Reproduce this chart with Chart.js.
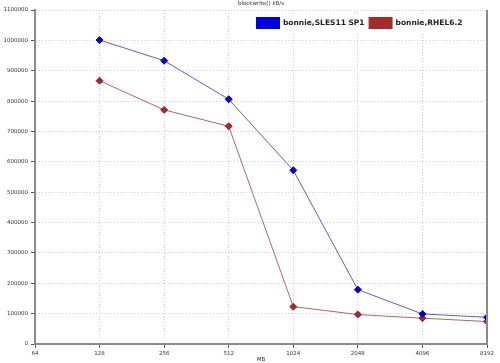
<!DOCTYPE html>
<html>
<head>
<meta charset="utf-8">
<script src="https://cdn.jsdelivr.net/npm/chart.js@4"></script>
<style>
    html, body { margin: 0; padding: 0; background: #fff; }
    #wrap { width: 500px; height: 363px; }
</style>
</head>
<body>
<div id="wrap"><canvas id="chart" width="500" height="363"></canvas></div>
<script>
// file sizes (MB) and blockwrite throughput (kB/s)
const xTicks = [64, 128, 256, 512, 1024, 2048, 4096, 8192];
const sizes = [128, 256, 512, 1024, 2048, 4096, 8192];
const slesValues = [1001000, 933000, 806000, 572000, 179000, 99000, 88000];
const rhelValues = [867000, 771000, 717000, 123000, 97000, 85000, 74000];
const seriesNames = ['bonnie,SLES11 SP1', 'bonnie,RHEL6.2'];
const chartTitle = 'blockwrite() kB/s';
const xTitle = 'MB';

function toPoints(values) {
    return sizes.map((s, i) => ({ x: s, y: values[i] }));
}

// title, x label, right border and legend box drawn on top
const extras = {
    id: 'extras',
    afterDraw(chart) {
        const ctx = chart.ctx;
        const area = chart.chartArea;
        ctx.save();

        ctx.strokeStyle = '#8a8a8a';
        ctx.lineWidth = 2;
        ctx.beginPath();
        ctx.moveTo(area.right, area.top);
        ctx.lineTo(area.right, area.bottom);
        ctx.stroke();

        ctx.fillStyle = '#333';
        ctx.font = '5.5px "DejaVu Sans"';
        ctx.textAlign = 'center';
        ctx.textBaseline = 'middle';
        ctx.fillText(chartTitle, (area.left + area.right) / 2, 4);
        ctx.fillText(xTitle, (area.left + area.right) / 2, 360);

        // legend
        let x = 256;
        const y = 17;
        ctx.fillStyle = '#fff';
        ctx.fillRect(253, 14, 215, 18);
        ctx.font = 'bold 7.5px "DejaVu Sans"';
        ctx.textAlign = 'left';
        chart.data.datasets.forEach(ds => {
            ctx.fillStyle = ds.pointBackgroundColor;
            ctx.fillRect(x, y, 24, 12);
            ctx.fillStyle = '#222';
            ctx.fillText(ds.label, x + 27, y + 6.5);
            x += 27 + ctx.measureText(ds.label).width + 4;
        });
        ctx.restore();
    }
};

const gridOpts = {
    color: '#d0d0d0',
    tickLength: 4,
    tickColor: '#555',
    tickBorderDash: []
};
const borderOpts = { color: '#8a8a8a', width: 2, dash: [1, 2] };

new Chart(document.getElementById('chart'), {
    type: 'line',
    data: {
        datasets: [{
            label: seriesNames[0],
            data: toPoints(slesValues),
            borderColor: '#5a5ad8',
            borderWidth: 1,
            pointStyle: 'rectRot',
            pointRadius: 3.5,
            pointBackgroundColor: '#0000e0',
            pointBorderColor: '#0000c0',
            tension: 0
        }, {
            label: seriesNames[1],
            data: toPoints(rhelValues),
            borderColor: '#b46666',
            borderWidth: 1,
            pointStyle: 'rectRot',
            pointRadius: 3.5,
            pointBackgroundColor: '#a52a2a',
            pointBorderColor: '#8f2222',
            tension: 0
        }]
    },
    options: {
        responsive: false,
        animation: false,
        layout: { padding: { top: 10, right: 13, left: 0, bottom: 0 } },
        plugins: {
            legend: { display: false },
            title: { display: false },
            tooltip: { enabled: false }
        },
        scales: {
            x: {
                type: 'logarithmic',
                min: 64,
                max: 8192,
                afterBuildTicks: axis => { axis.ticks = xTicks.map(v => ({ value: v })); },
                afterFit: axis => { axis.height = 19; },
                border: borderOpts,
                grid: gridOpts,
                ticks: {
                    callback: v => String(v),
                    autoSkip: false,
                    maxRotation: 0,
                    padding: 2,
                    color: '#333',
                    font: { family: 'DejaVu Sans', size: 5.5 }
                }
            },
            y: {
                min: 0,
                max: 1100000,
                afterFit: axis => { axis.width = 35; },
                border: borderOpts,
                grid: gridOpts,
                ticks: {
                    stepSize: 100000,
                    callback: v => String(v),
                    padding: 3,
                    color: '#333',
                    font: { family: 'DejaVu Sans', size: 5.5 }
                }
            }
        }
    },
    plugins: [extras]
});
</script>
</body>
</html>
